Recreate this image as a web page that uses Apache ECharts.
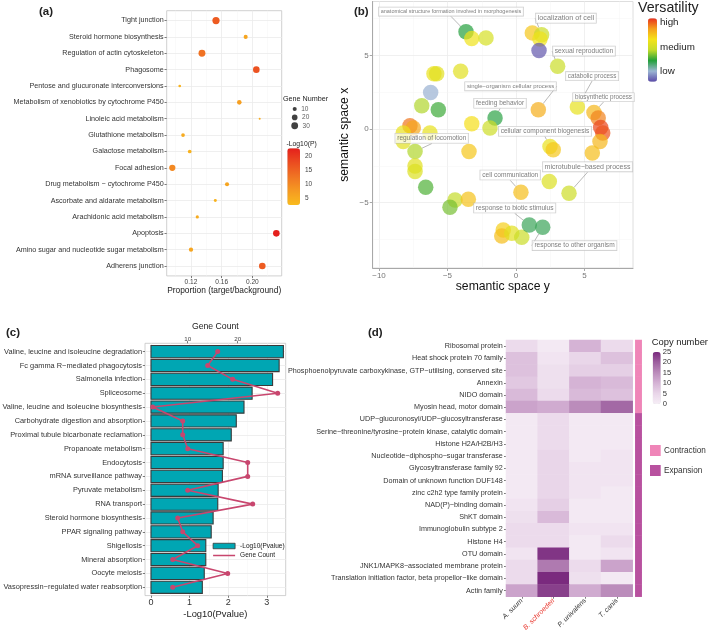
<!DOCTYPE html>
<html><head><meta charset="utf-8">
<script src="https://cdn.jsdelivr.net/npm/echarts@6/dist/echarts.min.js"></script>
<style>html,body{margin:0;padding:0;background:#fff}#c{width:709px;height:636px}</style>
</head><body><div id="c"></div>
<script>
// ================= DATA =================
// Panel (a): KEGG enrichment bubble chart
const pathwaysA = ['Tight junction','Steroid hormone biosynthesis','Regulation of actin cytoskeleton','Phagosome',
  'Pentose and glucuronate interconversions','Metabolism of xenobiotics by cytochrome P450','Linoleic acid metabolism',
  'Glutathione metabolism','Galactose metabolism','Focal adhesion','Drug metabolism − cytochrome P450',
  'Ascorbate and aldarate metabolism','Arachidonic acid metabolism','Apoptosis',
  'Amino sugar and nucleotide sugar metabolism','Adherens junction'];
const proportionA = [0.1526,0.1913,0.1343,0.2052,0.1053,0.1830,0.2096,0.1096,0.1183,0.0956,0.1670,0.1517,0.1282,0.2313,0.1200,0.2130];
const geneNumA = [34,10,31,28,4,13,2,8,8,25,10,5,6,28,11,28];
const log10pA = [16,6,13,17,4,7,5,5,4,10,6,4,5,23,6,16];
const ticksAx = [0.12,0.16,0.20];
const minorAx = [0.10,0.14,0.18,0.22];
const geneLegendA = [10,20,30];
const pTicksA = [5,10,15,20];

// Panel (b): REVIGO semantic space
const semY = [-3.65,-3.23,-2.19,1.19,1.87,1.75,1.68,3.04,-4.04,-5.99,-5.79,-6.23,-6.88,-5.67,1.63,4.48,5.69,6.0,6.18,6.33,6.13,5.57,-1.53,-1.9,-3.23,-7.74,-7.5,-8.23,-6.28,-8.23,-7.37,-3.43,2.48,2.72,-7.37,-7.37,-6.59,0.36,2.43,3.87,-4.45,-4.82,-3.48,-0.93,-1.04,-0.31,0.42,0.97,1.95];
const semX = [6.6,6.14,6.19,6.53,6.41,6.12,5.33,4.26,3.92,3.76,3.76,2.49,1.58,1.31,1.31,1.5,1.13,0.75,0.11,-0.27,-0.84,-1.63,0.75,0.07,0.36,0.22,0.07,-0.27,-0.27,-0.84,-1.52,-1.52,-1.18,-1.41,-2.5,-2.88,-3.95,-4.29,-3.56,-4.35,-4.81,-5.3,-4.76,-6.85,-7.26,-7.07,-7.35,-6.51,-6.67];
const versatility = [0.33,0.65,0.56,0.74,0.52,0.65,0.02,0.52,0.6,0.63,0.6,0.16,0.48,0.36,0.8,0.62,0.78,0.88,0.97,0.95,0.78,0.76,0.32,0.53,0.68,0.9,0.82,0.63,0.62,0.6,0.48,0.74,0.63,0.74,0.6,0.58,0.38,0.76,0.58,0.53,0.5,0.42,0.75,0.72,0.76,0.6,0.52,0.3,0.3];
const labeledIdx = [0,4,7,14,15,16,22,30,32,37,39,47,48];
const labeledTerms = ['anatomical structure formation involved in morphogenesis','localization of cell','sexual reproduction',
  'single−organism cellular process','catabolic process','biosynthetic process','feeding behavior','regulation of locomotion',
  'cellular component biogenesis','cell communication','microtubule−based process','response to biotic stimulus','response to other organism'];
const ticksBx = [-10,-5,0,5], minorBx = [-7.5,-2.5,2.5,7.5];
const ticksBy = [-5,0,5], minorBy = [-7.5,-2.5,2.5,7.5];
const versTickNames = ['high','medium','low'];
const versTickVals = [0.94,0.55,0.17];

// Panel (c): KEGG bar + gene count
const pathwaysC = ['Valine, leucine and isoleucine degradation','Fc gamma R−mediated phagocytosis','Salmonella infection','Spliceosome',
  'Valine, leucine and isoleucine biosynthesis','Carbohydrate digestion and absorption','Proximal tubule bicarbonate reclamation',
  'Propanoate metabolism','Endocytosis','mRNA surveillance pathway','Pyruvate metabolism','RNA transport','Steroid hormone biosynthesis',
  'PPAR signaling pathway','Shigellosis','Mineral absorption','Oocyte meiosis','Vasopressin−regulated water reabsorption'];
const pvalC = [3.43,3.32,3.15,2.62,2.41,2.21,2.08,1.87,1.87,1.85,1.74,1.73,1.61,1.56,1.42,1.42,1.38,1.33];
const geneC = [16,14,19,28,3,9,9,10,22,22,10,23,8,9,12,7,18,7];
const ticksCx = [0,1,2,3], minorCx = [0.5,1.5,2.5];
const ticksCtop = [10,20];

// Panel (d): gene family copy number heatmap
const families = ['Ribosomal protein','Heat shock protein 70 family','Phosphoenolpyruvate carboxykinase, GTP−utilising, conserved site',
  'Annexin','NIDO domain','Myosin head, motor domain','UDP−glucuronosyl/UDP−glucosyltransferase',
  'Serine−threonine/tyrosine−protein kinase, catalytic domain','Histone H2A/H2B/H3','Nucleotide−diphospho−sugar transferase',
  'Glycosyltransferase family 92','Domain of unknown function DUF148','zinc c2h2 type family protein','NAD(P)−binding domain',
  'ShKT domain','Immunoglobulin subtype 2','Histone H4','OTU domain','JNK1/MAPK8−associated membrane protein',
  'Translation initiation factor, beta propellor−like domain','Actin family'];
const species = ['A. suum','B. schroederi','P. univalens','T. canis'];
const copyAsuum = [4,8,8,7,9,12,1,1,1,1,1,1,1,2,3,4,4,2,4,4,12];
const copyBschroederi = [1,2,3,3,4,11,4,4,4,5,5,5,5,6,9,4,4,24,17,25,23];
const copyPunivalens = [10,5,6,10,9,15,1,1,1,1,2,2,2,1,1,2,1,1,4,3,11];
const copyTcanis = [4,8,6,9,8,19,1,1,1,2,2,2,1,1,1,2,4,2,12,1,15];
const familyGroup = [0,0,0,0,0,0,1,1,1,1,1,1,1,1,1,1,1,1,1,1,1]; // 0 Contraction, 1 Expansion
const groupNames = ['Contraction','Expansion'];
const copyTicks = [25,20,15,10,5,0];

// ================= STYLE / LAYOUT =================
const FONT = "'Liberation Sans', Arial, Helvetica, sans-serif";
const G = {
  a:{left:166.7, top:10.7, width:115, height:265.2},
  aLeg:{left:289.7, top:104.9, width:10, height:25},
  b:{left:372.7, top:1.5, width:260.3, height:266.5},
  c:{left:145, top:343.3, width:140.7, height:252.3},
  d:{left:506, top:340, width:126.7, height:256.7},
  dAnn:{left:635.3, top:340, width:6.4, height:256.7}
};
const vmA = {left:287.3, top:148.3, w:12.7, h:56.7, min:2.6, max:23};
const vmB = {left:648, top:18.3, w:9, h:63.4, min:0, max:1};
const vmD = {left:652.7, top:352, w:8, h:52, min:0, max:25};
const labelDxDy = [[-15,-20.3],[24.3,-16.5],[26.3,-15.2],[-27.8,-23.5],[14.7,-30.8],[9.5,-15.2],[5,-14.8],[16.7,-13.2],[-5,-15.2],[-10.7,-17.3],[18.5,-26.3],[-14.6,-17],[31.8,18.2]];
const labelFont = [5.5,7.2,6.7,6,6.3,6.3,6.5,6.5,6.6,6.6,7,6.6,6.6];
const groupColors = ['#ef85b8','#b8519f'];

function sizeA(n){ return 0.35 + 1.18*Math.sqrt(n); }
function minus(v){ return v < 0 ? '−' + Math.abs(v) : String(v); }
function vl(vals,color,width){ return vals.map(v=>({xAxis:v, lineStyle:{color:color,width:width,type:'solid'}})); }
function hl(vals,color,width){ return vals.map(v=>({yAxis:v, lineStyle:{color:color,width:width,type:'solid'}})); }
function gridSeries(xi, yi, lines){
  return {type:'line', xAxisIndex:xi, yAxisIndex:yi, data:[], silent:true, z:0,
    markLine:{z:0, silent:true, symbol:['none','none'], label:{show:false}, animation:false, emphasis:{disabled:true}, data:lines}};
}
const idxA = pathwaysA.map((_,i)=>i);
const idxC = pathwaysC.map((_,i)=>i);

function txt(x,y,s,size,extra){
  return {type:'text', x:x, y:y, silent:true, z:50,
    style:Object.assign({text:s, fontSize:size, fontFamily:FONT, fill:'#222', verticalAlign:'middle', align:'left'}, extra||{})};
}
function vmY(vm, v){ return vm.top + (vm.max - v)/(vm.max - vm.min)*vm.h; }

const graphics = [
  txt(39,12,'(a)',11.5,{fontWeight:'bold'}),
  txt(354,12,'(b)',11.5,{fontWeight:'bold'}),
  txt(6,333,'(c)',11.5,{fontWeight:'bold'}),
  txt(368,333,'(d)',11.5,{fontWeight:'bold'}),
  txt(283,99,'Gene Number',7.2),
  txt(286.5,144,'-Log10(P)',6.8),
  txt(638,8,'Versatility',14.2),
  txt(651.7,342,'Copy number',9.4)
];
pTicksA.forEach(v=>graphics.push(txt(vmA.left+vmA.w+5, vmY(vmA,v), String(v), 6.5, {fill:'#444'})));
versTickNames.forEach((s,i)=>graphics.push(txt(vmB.left+vmB.w+3, vmY(vmB,versTickVals[i]), s, 9.8)));
copyTicks.forEach(v=>graphics.push(txt(vmD.left+vmD.w+2, vmY(vmD,v), String(v), 7.6, {fill:'#333'})));
groupNames.forEach((s,i)=>{
  graphics.push({type:'rect', silent:true, z:50, shape:{x:650, y:445+i*20, width:10.7, height:11}, style:{fill:groupColors[i]}});
  graphics.push(txt(664, 450.5+i*20, s, 8.2, {fill:'#333'}));
});

// ================= SERIES DATA =================
const dataA = proportionA.map((p,i)=>[p, i, log10pA[i], geneNumA[i]]);
const dataALeg = geneLegendA.map((g,i)=>[0.5, i, g]);
const dataB = semY.map((x,i)=>{
  const item = {value:[x, semX[i], versatility[i]]};
  const k = labeledIdx.indexOf(i);
  if (k >= 0){ item.name = labeledTerms[k]; item.label = {show:true, fontSize:labelFont[k]}; }
  return item;
});
const dataCbar = pvalC.map((v,i)=>[v,i]);
const dataCline = geneC.map((g,i)=>[g,i]);
const copyCols = [copyAsuum, copyBschroederi, copyPunivalens, copyTcanis];
const dataD = [];
families.forEach((f,r)=>copyCols.forEach((col,c)=>dataD.push([c, r, col[r]])));
const dataDann = familyGroup.map((g,r)=>[0, r, g]);

function renderBar(params, api){
  const v = api.value(0), i = api.value(1);
  const p0 = api.coord([0, i]);
  const p1 = api.coord([v, i]);
  const h = Math.abs(api.size([0, 0.88])[1]);
  return {type:'rect', shape:{x:p0[0], y:p0[1]-h/2, width:p1[0]-p0[0], height:h},
    style:{fill:'#00a6b3', stroke:'#3a3a3a', lineWidth:1.1}};
}

const baseTick = {show:true, length:2.2, lineStyle:{color:'#444', width:0.7}};
const gridCommon = {outerBoundsMode:'none', containLabel:false};
const lineIcon = 'path://M0,0 L0.05,0 L0.05,0.05 Z M0,2 L22,2 L22,3.6 L0,3.6 Z M21.95,5.5 L22,5.5 L22,5.45 Z';

const option = {
  animation:false,
  textStyle:{fontFamily:FONT},
  grid:[
    Object.assign({}, gridCommon, G.a, {show:true, borderColor:'#c4c4c4', borderWidth:0.8, backgroundColor:'#fff'}),
    Object.assign({}, gridCommon, G.aLeg),
    Object.assign({}, gridCommon, G.b, {show:true, borderColor:'#d6d6d6', borderWidth:0.8, backgroundColor:'#fff'}),
    Object.assign({}, gridCommon, G.c, {show:true, borderColor:'#c4c4c4', borderWidth:0.8, backgroundColor:'#fff'}),
    Object.assign({}, gridCommon, G.d),
    Object.assign({}, gridCommon, G.dAnn)
  ],
  xAxis:[
    {gridIndex:0, type:'value', min:0.0883, max:0.2383,
      axisLine:{show:false, onZero:false}, splitLine:{show:false},
      axisTick:Object.assign({customValues:ticksAx}, baseTick),
      axisLabel:{customValues:ticksAx, fontSize:6.6, color:'#444', margin:2.5, formatter:v=>v.toFixed(2)},
      name:'Proportion (target/background)', nameLocation:'middle', nameGap:9,
      nameTextStyle:{fontSize:8.4, color:'#222'}},
    {gridIndex:1, type:'value', min:0, max:1, show:false},
    {gridIndex:2, type:'value', min:-10.46, max:8.54,
      axisLine:{show:true, onZero:false, lineStyle:{color:'#a8a8a8', width:1}}, splitLine:{show:false},
      axisTick:{show:true, customValues:ticksBx, length:3, lineStyle:{color:'#a8a8a8'}},
      axisLabel:{customValues:ticksBx, fontSize:8, color:'#777', margin:4, formatter:minus},
      name:'semantic space y', nameLocation:'middle', nameGap:11,
      nameTextStyle:{fontSize:12.2, color:'#111'}},
    {gridIndex:3, type:'value', min:-0.155, max:3.49,
      axisLine:{show:false, onZero:false}, splitLine:{show:false},
      axisTick:Object.assign({customValues:ticksCx}, baseTick),
      axisLabel:{customValues:ticksCx, fontSize:9, color:'#333', margin:2.5},
      name:'-Log10(Pvalue)', nameLocation:'middle', nameGap:14.5,
      nameTextStyle:{fontSize:9.4, color:'#222'}},
    {gridIndex:3, type:'value', position:'top', min:1.46, max:29.6,
      axisLine:{show:false, onZero:false}, splitLine:{show:false},
      axisTick:Object.assign({customValues:ticksCtop}, baseTick),
      axisLabel:{customValues:ticksCtop, fontSize:6.2, color:'#444', margin:1.5},
      name:'Gene Count', nameLocation:'middle', nameGap:12,
      nameTextStyle:{fontSize:8.7, color:'#222'}},
    {gridIndex:4, type:'category', data:species,
      axisLine:{show:false}, axisTick:{show:true, alignWithLabel:true, length:2, lineStyle:{color:'#444', width:0.7}},
      axisLabel:{interval:0, rotate:45, fontSize:7, fontStyle:'italic', color:'#333', margin:3,
        formatter:v=> v === 'B. schroederi' ? '{r|' + v + '}' : v,
        rich:{r:{color:'#e8342b', fontSize:7, fontStyle:'italic'}}}},
    {gridIndex:5, type:'category', data:['group'], show:false}
  ],
  yAxis:[
    {gridIndex:0, type:'value', inverse:true, min:-0.6, max:15.6,
      axisLine:{show:false, onZero:false}, splitLine:{show:false},
      axisTick:Object.assign({customValues:idxA}, baseTick),
      axisLabel:{customValues:idxA, fontSize:7.2, color:'#333', margin:3, formatter:v=>pathwaysA[Math.round(v)]}},
    {gridIndex:1, type:'value', min:-0.5, max:2.5, inverse:true, show:false},
    {gridIndex:2, type:'value', min:-9.43, max:8.66,
      axisLine:{show:true, onZero:false, lineStyle:{color:'#a8a8a8', width:1}}, splitLine:{show:false},
      axisTick:{show:true, customValues:ticksBy, length:3, lineStyle:{color:'#a8a8a8'}},
      axisLabel:{customValues:ticksBy, fontSize:8, color:'#777', margin:4, formatter:minus},
      name:'semantic space x', nameLocation:'middle', nameGap:22,
      nameTextStyle:{fontSize:12.2, color:'#111'}},
    {gridIndex:3, type:'value', inverse:true, min:-0.6, max:17.6,
      axisLine:{show:false, onZero:false}, splitLine:{show:false},
      axisTick:Object.assign({customValues:idxC}, baseTick),
      axisLabel:{customValues:idxC, fontSize:7.4, color:'#333', margin:3, formatter:v=>pathwaysC[Math.round(v)]}},
    {gridIndex:4, type:'category', data:families, inverse:true,
      axisLine:{show:false}, axisTick:{show:true, alignWithLabel:true, length:2, lineStyle:{color:'#444', width:0.7}},
      axisLabel:{interval:0, fontSize:7.2, color:'#333', margin:3.2}},
    {gridIndex:5, type:'category', data:families, inverse:true, show:false}
  ],
  visualMap:[
    {type:'continuous', seriesIndex:1, dimension:2, min:vmA.min, max:vmA.max, calculable:false, padding:0,
      left:vmA.left, top:vmA.top, itemWidth:vmA.w, itemHeight:vmA.h, text:null,
      inRange:{color:['#f9bb1d','#f59a22','#f07423','#eb4c20','#e4201c']}},
    {type:'continuous', seriesIndex:4, dimension:2, min:vmB.min, max:vmB.max, calculable:false, padding:0,
      left:vmB.left, top:vmB.top, itemWidth:vmB.w, itemHeight:vmB.h, text:null,
      inRange:{color:['#5a4aa8','#9bb5d3','#22a03a','#c4dc2a','#f5e318','#f5a11c','#e8321e']}},
    {type:'continuous', seriesIndex:8, dimension:2, min:vmD.min, max:vmD.max, calculable:false, padding:0,
      left:vmD.left, top:vmD.top, itemWidth:vmD.w, itemHeight:vmD.h, text:null,
      inRange:{color:['#f6eef6','#e9d6e9','#d5b3d5','#bb8cbb','#9d609f','#7a2a7e']}},
    {type:'piecewise', show:false, seriesIndex:9, dimension:2,
      pieces:[{value:0, color:groupColors[0]},{value:1, color:groupColors[1]}]}
  ],
  legend:{left:212.7, top:542.5, orient:'vertical', itemWidth:22, itemHeight:5.5, itemGap:2.5, padding:0,
    textStyle:{fontSize:6.5, color:'#222', fontFamily:FONT},
    data:[{name:'-Log10(Pvalue)', icon:'rect', itemStyle:{color:'#00a6b3', borderColor:'#3a3a3a', borderWidth:0.8}},
          {name:'Gene Count', icon:lineIcon, itemStyle:{color:'#c8466e', borderWidth:0}}]},
  graphic:graphics,
  series:[
    gridSeries(0,0,[].concat(vl(minorAx,'#f4f4f4',0.5), vl(ticksAx,'#ebebeb',0.8), hl(idxA,'#ebebeb',0.8))),
    {type:'scatter', xAxisIndex:0, yAxisIndex:0, data:dataA, z:3, symbolSize:v=>sizeA(v[3]), itemStyle:{opacity:1}},
    {type:'scatter', xAxisIndex:1, yAxisIndex:1, data:dataALeg, z:3, symbolSize:v=>sizeA(v[2]),
      itemStyle:{color:'#111'}, label:{show:true, position:'right', distance:4.5, fontSize:6.5, color:'#333', formatter:p=>p.value[2]}},
    gridSeries(2,2,[].concat(vl(minorBx,'#f5f5f5',0.5), vl(ticksBx,'#ececec',0.8), hl(minorBy,'#f5f5f5',0.5), hl(ticksBy,'#ececec',0.8))),
    {type:'scatter', xAxisIndex:2, yAxisIndex:2, data:dataB, z:3, symbolSize:15.5,
      itemStyle:{opacity:0.7},
      label:{show:false, position:'inside', formatter:'{b}', color:'#444', backgroundColor:'#fff',
        borderColor:'#b5b5b5', borderWidth:0.6, padding:[1.5,2,1,2], fontFamily:FONT},
      labelLine:{show:true, lineStyle:{color:'#8a8a8a', width:0.6}},
      labelLayout:p=>{ const k = labeledIdx.indexOf(p.dataIndex); if (k < 0) return {}; return {dx:labelDxDy[k][0], dy:labelDxDy[k][1]}; }},
    gridSeries(3,3,[].concat(vl(minorCx,'#f4f4f4',0.5), vl(ticksCx,'#ebebeb',0.8), hl(idxC,'#ebebeb',0.8))),
    {type:'custom', name:'-Log10(Pvalue)', xAxisIndex:3, yAxisIndex:3, data:dataCbar, z:3, encode:{x:0, y:1},
      renderItem:renderBar, itemStyle:{color:'#00a6b3', borderColor:'#3a3a3a', borderWidth:1}},
    {type:'line', name:'Gene Count', xAxisIndex:4, yAxisIndex:3, data:dataCline, z:4,
      symbol:'circle', symbolSize:5, lineStyle:{color:'#c8466e', width:1.6}, itemStyle:{color:'#c8466e'}},
    {type:'heatmap', xAxisIndex:5, yAxisIndex:4, data:dataD, itemStyle:{borderWidth:0}},
    {type:'heatmap', xAxisIndex:6, yAxisIndex:5, data:dataDann, itemStyle:{borderWidth:0}}
  ]
};
const chart = echarts.init(document.getElementById('c'), null, {renderer:'canvas', width:709, height:636});
chart.setOption(option);
</script>
</body></html>
